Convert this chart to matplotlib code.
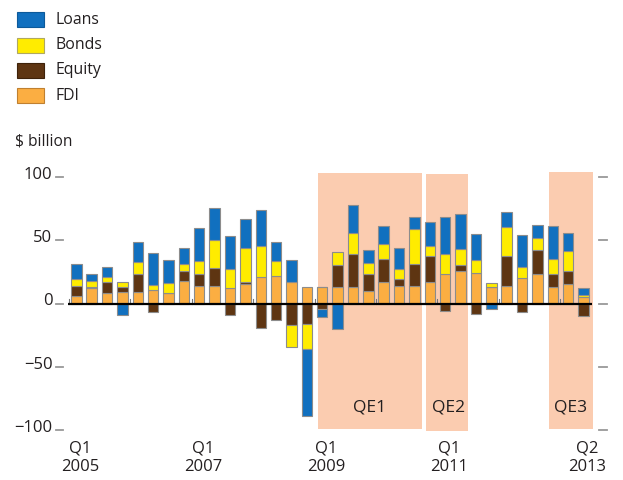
import matplotlib
matplotlib.use("Agg")
import matplotlib.pyplot as plt
from matplotlib.patches import Rectangle
import numpy as np

plt.rcParams['font.family'] = ['Open Sans', 'DejaVu Sans']

# ---------------- data ($ billion, quarterly Q1 2005 .. Q2 2013) ----------------
quarters = [f"Q{q} {y}" for y in range(2005, 2014) for q in range(1, 5)][:34]
fdi    = [6, 12, 8, 9, 9, 11, 8, 18, 14, 14, 12, 15, 21, 22, 17, 13, 13,
          13, 13, 10, 17, 14, 14, 17, 23, 25.5, 24, 13, 14, 20, 23.5, 13, 15.5, 5]
equity = [8, 1, 9, 4, 14, -7, 0.5, 7.5, 9, 14, -9, 2, -19, -13, -17, -16, -4.5,
          17, 26, 13, 18, 5, 17, 20.5, -6, 5, -8.5, 0, 23.5, -6.5, 19, 10.5, 10, -10]
bonds  = [5, 4.5, 4, 4, 10, 3.5, 8, 5.5, 10.5, 22, 15.5, 27, 24, 11.5, -17, -20, 0,
          11, 17, 9, 12, 8, 27.5, 8, 16, 12.5, 10, 3, 22.5, 8.5, 9, 11.5, 16, 2]
loans  = [12, 6, 8, -9, 15.5, 25, 17.5, 12.5, 26, 25.5, 25.5, 23, 29, 15, 17, -52.5, -6,
          -20, 21.5, 10.5, 14, 16.5, 10, 19, 29, 27.5, 21, -4, 12.5, 25.5, 10.5, 26.5, 14, 5]
series_names = ["FDI", "Equity", "Bonds", "Loans"]
series_vals = [fdi, equity, bonds, loans]
colors = {"Loans": "#1170BF", "Bonds": "#FFEC00", "Equity": "#5E3512", "FDI": "#FBAE42"}

xtick_idx = [0, 8, 16, 24, 33]
xtick_labels = ["Q1\n2005", "Q1\n2007", "Q1\n2009", "Q1\n2011", "Q2\n2013"]
yticks = [100, 50, 0, -50, -100]
ytick_labels = ["100", "50", "0", "\u221250", "\u2212100"]

# QE periods (label, start, end in quarter-index units)
qe_periods = [("QE1", 15.74, 22.47), ("QE2", 22.73, 25.48), ("QE3", 30.75, 33.6)]

# ---------------- figure ----------------
W, H = 623, 480
fig = plt.figure(figsize=(W / 100, H / 100), dpi=100)
ax = fig.add_axes([0, 0, 1, 1])
ax.set_axis_off()

# pixel mapping
x0px, dxpx = 76.3, 15.37
y0px, dypx = 303.5, 1.267
ax.set_xlim((0 - x0px) / dxpx, (W - x0px) / dxpx)
ax.set_ylim((y0px - H) / dypx, y0px / dypx)

txtc = "#231f20"

# shaded QE regions
qe_y = [(-99.3, 102.8), (-100.4, 102.2), (-98.8, 103.8)]
for (lab, s, e), (yb, yt) in zip(qe_periods, qe_y):
    ax.add_patch(Rectangle((s, yb), e - s, yt - yb, facecolor="#FBCCB0",
                           edgecolor="none", zorder=0))
    ax.text((s + e) / 2 + (0.1 if lab == "QE2" else 0), -82, lab, ha="center", va="center",
            fontsize=12.5, color=txtc, zorder=5)

# stacked bars
x = np.arange(len(fdi))
pos_bottom = np.zeros(len(x))
neg_bottom = np.zeros(len(x))
for name, vals in zip(series_names, series_vals):
    v = np.array(vals, dtype=float)
    bottom = np.where(v >= 0, pos_bottom, neg_bottom)
    ax.bar(x, v, bottom=bottom, width=0.68, color=colors[name],
           edgecolor="#8c8c8c", linewidth=0.8, zorder=2)
    pos_bottom += np.where(v > 0, v, 0)
    neg_bottom += np.where(v < 0, v, 0)

# zero line
ax.plot([-0.54, 33.55], [0, 0], color="black", lw=1.6, zorder=4, solid_capstyle="butt")
# year boundary ticks
for k in range(9):
    xb = -0.5 + 4 * k
    ax.plot([xb, xb], [0, 3.2], color="#777777", lw=0.8, zorder=3)

# y ticks + labels
for v, lab in zip(yticks, ytick_labels):
    ax.plot([-1.34, -0.85], [v, v], color="#999999", lw=1.3, zorder=3)
    ax.plot([34.0, 34.55], [v, v], color="#999999", lw=1.3, zorder=3)
    ax.text(-1.56, v - 1.5, lab, ha="right", va="baseline", fontsize=12, color=txtc)

# x tick labels
for i, lab in zip(xtick_idx, xtick_labels):
    ax.text(i + 0.25, -108.3, lab, ha="center", va="top", fontsize=12,
            color=txtc, linespacing=1.2)

# unit label
ax.text((15 - x0px) / dxpx, (y0px - 141.5) / dypx, "$ billion", ha="left", va="center",
        fontsize=11.2, color=txtc)

# legend (manual, in pixel-aligned positions)
leg_order = ["Loans", "Bonds", "Equity", "FDI"]
edge_leg = {"Loans": "#0d5a9a", "Bonds": "#b0a860", "Equity": "#3e220a", "FDI": "#c08030"}
for r, name in enumerate(leg_order):
    top_px = 12.3 + 25.3 * r
    xl = (16.7 - x0px) / dxpx
    wl = 27.6 / dxpx
    yt = (y0px - top_px) / dypx
    hl = 15 / dypx
    ax.add_patch(Rectangle((xl, yt - hl), wl, hl, facecolor=colors[name],
                           edgecolor=edge_leg[name], linewidth=0.8, zorder=3))
    ax.text((55.5 - x0px) / dxpx, (y0px - top_px - 7.5) / dypx, name, ha="left",
            va="center", fontsize=11.4, color=txtc)

fig.savefig("out.png", dpi=100)
